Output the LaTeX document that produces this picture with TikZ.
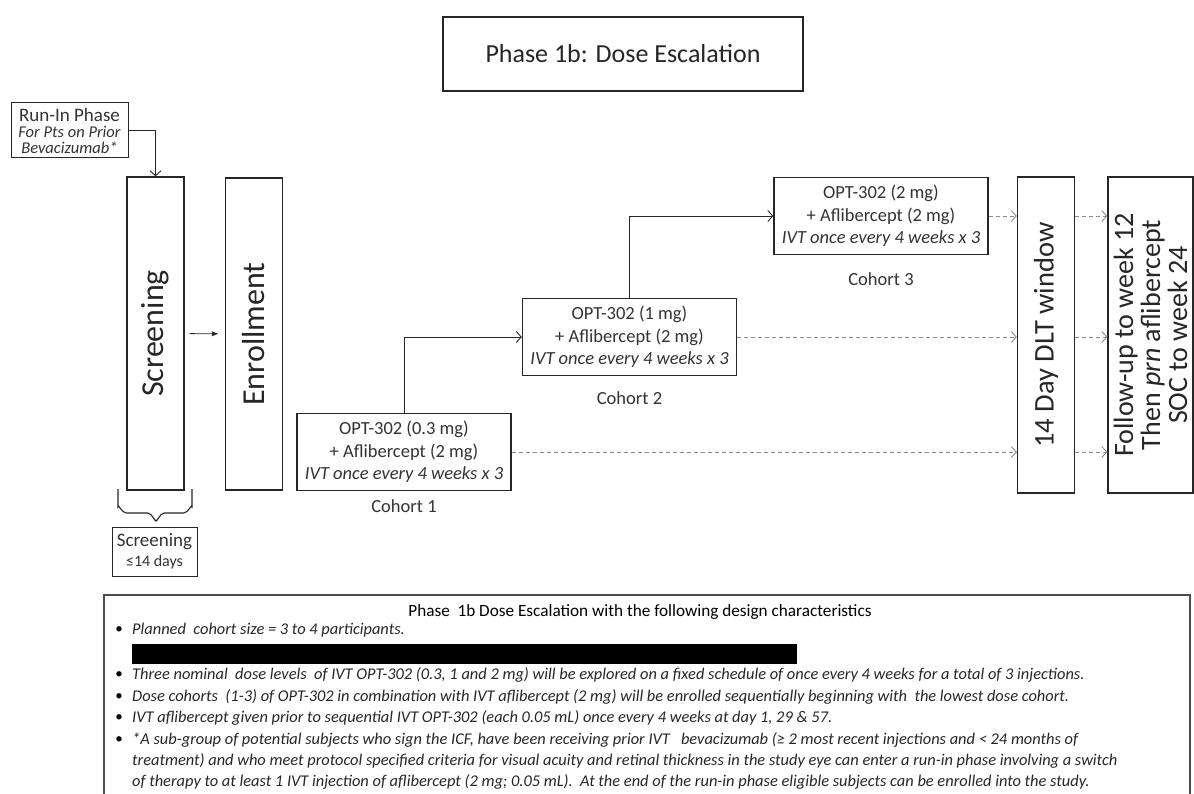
\documentclass[tikz,border=0pt]{standalone}
\usepackage{fontspec}
\setmainfont{Carlito}
\usetikzlibrary{arrows.meta,positioning}

\newcommand{\fsize}[2]{\fontsize{#1}{#2}\selectfont}

\tikzset{
  box/.style={draw=black!85, line width=1.3pt, inner sep=0pt, fill=white},
  barb/.style={draw=black!85, line width=0.9pt, -{Straight Barb[length=5pt,width=11pt]}},
  dasharr/.style={draw=black!45, line width=0.9pt, dash pattern=on 4pt off 3pt, -{Straight Barb[length=5pt,width=11pt]}},
  cohortbox/.style={box, minimum width=214, minimum height=77, align=center, font=\fsize{18.5}{22.5}, text=black!80},
  tall/.style={box, minimum width=57, minimum height=316},
  note/.style={anchor=west, inner sep=0pt, font=\fsize{16.4}{18}\itshape, text=black!85},
}

\begin{document}
\begin{tikzpicture}[x=1pt,y=1pt,yscale=-1]
\useasboundingbox (0,0) rectangle (1194,794);

%Title
\node[box, minimum width=360, minimum height=74, font=\fsize{26}{30}, text=black!85] (title) at (623,54) {Phase 1b: Dose Escalation};

%Run-in phase
\node[box, line width=1pt, minimum width=117, minimum height=55, align=center, text=black!80, font=\fsize{16.5}{16}] (runin) at (69.5,130.5)
  {{\fsize{19}{16}Run-In Phase}\\{\itshape For Pts on Prior}\\{\itshape Bevacizumab*}};

%Screening and enrollment
\node[tall, minimum height=313] (screen) at (155.5,333.5) {};
\node[rotate=90, font=\fsize{32}{36}, text=black!85] at (screen) {Screening};
\node[tall, minimum height=312] (enroll) at (254,334) {};
\node[rotate=90, font=\fsize{32}{36}, text=black!85] at (enroll) {Enrollment};

%Brace under screening
\draw[black!85, line width=1.1pt] (118,489) -- (118,507) to[out=-90,in=180] (126,513) -- (148,513) to[out=0,in=90] (156,520);
\draw[black!85, line width=1.1pt] (192,489) -- (192,507) to[out=-90,in=0] (184,513) -- (164,513) to[out=180,in=90] (156,520);
\node[box, line width=1pt, minimum width=85, minimum height=49, align=center, text=black!80, font=\fsize{16}{20}] (window) at (154.5,551.5)
  {{\fsize{19}{20}Screening}\\≤14 days};

%Cohorts
\node[cohortbox] (c1) at (404,452) {OPT-302 (0.3 mg)\\+ Aflibercept (2 mg)\\{\itshape IVT once every 4 weeks x 3}};
\node[cohortbox] (c2) at (629.5,337) {OPT-302 (1 mg)\\+ Aflibercept (2 mg)\\{\itshape IVT once every 4 weeks x 3}};
\node[cohortbox] (c3) at (881,216) {OPT-302 (2 mg)\\+ Aflibercept (2 mg)\\{\itshape IVT once every 4 weeks x 3}};
\node[below=5pt of c1, font=\fsize{18.5}{22}, text=black!80] (c1lab) {Cohort 1};
\node[below=12pt of c2, font=\fsize{18.5}{22}, text=black!80] (c2lab) {Cohort 2};
\node[below=14pt of c3, font=\fsize{18.5}{22}, text=black!80] (c3lab) {Cohort 3};

%DLT window and follow-up
\node[tall] (dlt) at (1046,335) {};
\node[rotate=90, font=\fsize{28.5}{30}, text=black!85] at (dlt) {14 Day DLT window};
\node[tall, minimum width=85] (follow) at (1150.5,335) {};
\node[rotate=90, align=center, font=\fsize{28}{27}, text=black!85] at (follow) {Follow-up to week 12\\Then {\itshape prn} aflibercept\\SOC to week 24};

%Connectors
\draw[barb] (runin.east) -| (screen.north);
\draw[black!85, line width=0.9pt, -Latex, shorten <=5pt, shorten >=6pt] (screen) -- (enroll);
\draw[barb] (c1.north) |- (c2.west);
\draw[barb] (c2.north) |- (c3.west);
\draw[dasharr] (c3.east) -- (c3.east -| dlt.west);
\draw[dasharr] (c2.east) -- (c2.east -| dlt.west);
\draw[dasharr] (c1.east) -- (c1.east -| dlt.west);
\draw[dasharr] (c3.east -| dlt.east) -- (c3.east -| follow.west);
\draw[dasharr] (c2.east -| dlt.east) -- (c2.east -| follow.west);
\draw[dasharr] (c1.east -| dlt.east) -- (c1.east -| follow.west);

%Design characteristics
\draw[black!70, line width=1.2pt] (104,794) -- (104,595) -- (1190,595) -- (1190,794);
\node[font=\fsize{17.2}{18}, text=black] (head) at (640,612) {Phase\ \ 1b Dose Escalation with the following design characteristics};
\fill[black] (132,644) rectangle (797,664);
\foreach \yy in {630,675,697,718,740} \node[font=\fsize{15}{18}] at (119,\yy) {•};
\node[note] (l1) at (132,630) {Planned\ \ cohort size = 3 to 4 participants.};
\node[note] (l2) at (132,675) {Three nominal\ \ dose levels\ \ of IVT OPT-302 (0.3, 1 and 2 mg) will be explored on a fixed schedule of once every 4 weeks for a total of 3 injections.};
\node[note] (l3) at (132,697) {Dose cohorts\ \ (1-3) of OPT-302 in combination with IVT aflibercept (2 mg) will be enrolled sequentially beginning with\ \ the lowest dose cohort.};
\node[note] (l4) at (132,718) {IVT aflibercept given prior to sequential IVT OPT-302 (each 0.05 mL) once every 4 weeks at day 1, 29 \& 57.};
\node[note] (l5) at (132,740) {*A sub-group of potential subjects who sign the ICF, have been receiving prior IVT\ \ \ bevacizumab (≥ 2 most recent injections and < 24 months of};
\node[note] (l6) at (132,761) {treatment) and who meet protocol specified criteria for visual acuity and retinal thickness in the study eye can enter a run-in phase involving a switch};
\node[note] (l7) at (132,782) {of therapy to at least 1 IVT injection of aflibercept (2 mg; 0.05 mL).\ \ At the end of the run-in phase eligible subjects can be enrolled into the study.};
\end{tikzpicture}
\end{document}
